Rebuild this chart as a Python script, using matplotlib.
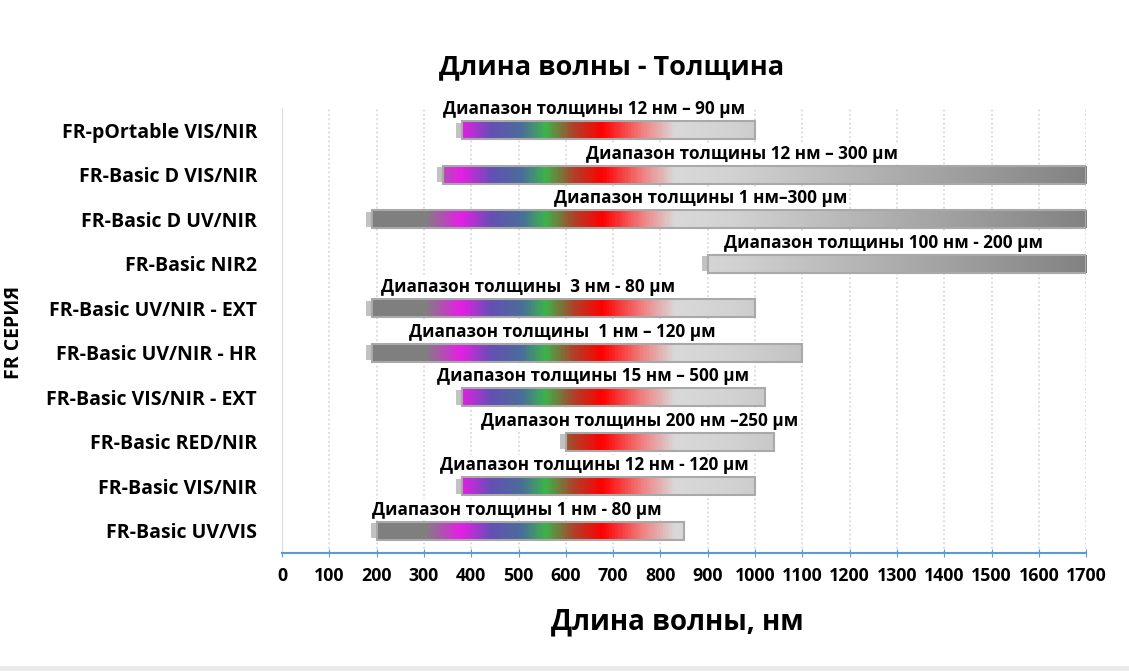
import numpy as np
import matplotlib.pyplot as plt
from matplotlib.colors import LinearSegmentedColormap, Normalize
from matplotlib.patches import Rectangle

plt.rcParams['font.family'] = ['Open Sans', 'DejaVu Sans']

# bottom to top
models = ['FR-Basic UV/VIS', 'FR-Basic VIS/NIR', 'FR-Basic RED/NIR', 'FR-Basic VIS/NIR - EXT',
          'FR-Basic UV/NIR - HR', 'FR-Basic UV/NIR - EXT', 'FR-Basic NIR2',
          'FR-Basic D UV/NIR', 'FR-Basic D VIS/NIR', 'FR-pOrtable VIS/NIR']
wl_start = [200, 380, 600, 380, 190, 190, 900, 190, 340, 380]
wl_end = [850, 1000, 1040, 1020, 1100, 1000, 1700, 1700, 1700, 1000]
ranges = ['Диапазон толщины 1 нм - 80 μм',
          'Диапазон толщины 12 нм - 120 μм',
          'Диапазон толщины 200 нм –250 μм',
          'Диапазон толщины 15 нм – 500 μм',
          'Диапазон толщины  1 нм – 120 μм',
          'Диапазон толщины  3 нм - 80 μм',
          'Диапазон толщины 100 нм - 200 μм',
          'Диапазон толщины 1 нм–300 μм',
          'Диапазон толщины 12 нм – 300 μм',
          'Диапазон толщины 12 нм – 90 μм']
label_x = [497, 660, 756, 657, 593, 521, 1271, 886, 973, 660]

# spectrum colours along wavelength
stops = [(0, '#7f7f7f'), (300, '#808080'), (375, '#e61ee6'), (440, '#6450b4'),
         (505, '#4a6e9a'), (555, '#3cb44a'), (615, '#b0402a'), (675, '#ff0000'),
         (760, '#f08080'), (830, '#d9d9d9'), (950, '#d2d2d2'), (1700, '#828282')]
cmap = LinearSegmentedColormap.from_list('spec', [(w / 1700, c) for w, c in stops])
norm = Normalize(0, 1700)

fig = plt.figure(figsize=(11.29, 6.71), dpi=100)
ax = fig.add_axes([0.2498, 0.1759, 0.7123, 0.6632])

h = 0.40
for i in range(len(models)):
    s, e = wl_start[i], wl_end[i]
    # soft shadow on the left
    ax.add_patch(Rectangle((s - 12, i - h / 2 + 0.03), 20, h - 0.06, color='#9a9a9a',
                           alpha=0.6, lw=0, zorder=2))
    grad = np.linspace(s, e, 500).reshape(1, -1)
    ax.imshow(grad, cmap=cmap, norm=norm, extent=[s, e, i - h / 2, i + h / 2],
              aspect='auto', interpolation='bilinear', zorder=3)
    ax.add_patch(Rectangle((s, i - h / 2), e - s, h, fill=False, ec='#a9a9a9', lw=1.5, zorder=4))
    ax.text(label_x[i], i + 0.47, ranges[i], ha='center', va='center', fontsize=12.3,
            fontweight='bold', zorder=5,
            bbox=dict(fc='white', ec='none', pad=1))

ax.set_xlim(0, 1700)
ax.set_ylim(-0.5, 9.5)
ax.set_xticks(np.arange(0, 1701, 100))
ax.set_yticks(range(len(models)))
ax.set_yticklabels(models, fontsize=14, fontweight='bold')
for t in ax.get_xticklabels():
    t.set_fontweight('bold')
    t.set_fontsize(12.8)
ax.tick_params(axis='x', direction='inout', length=6, color='#5b9bd5', pad=7)
ax.tick_params(axis='y', length=0, pad=18)
ax.grid(axis='x', ls=':', color='#d4d4d4', lw=1.2, zorder=0)
ax.set_axisbelow(True)
for sp in ['top', 'right']:
    ax.spines[sp].set_visible(False)
ax.spines['bottom'].set_color('#5b9bd5')
ax.spines['bottom'].set_linewidth(1.5)
ax.spines['left'].set_color('#dcdcdc')

fig.text(0.542, 0.90, 'Длина волны - Толщина', ha='center', va='center',
         fontsize=19.5, fontweight='bold')
fig.text(0.60, 0.073, 'Длина волны, нм', ha='center', va='center',
         fontsize=20, fontweight='bold')
fig.text(0.012, 0.505, 'FR СЕРИЯ', ha='center', va='center', rotation=90,
         fontsize=14, fontweight='bold')
fig.patches.append(Rectangle((0, 0), 1, 0.007, transform=fig.transFigure,
                             color='#ebebeb', lw=0))

fig.savefig('out.png', dpi=100)
